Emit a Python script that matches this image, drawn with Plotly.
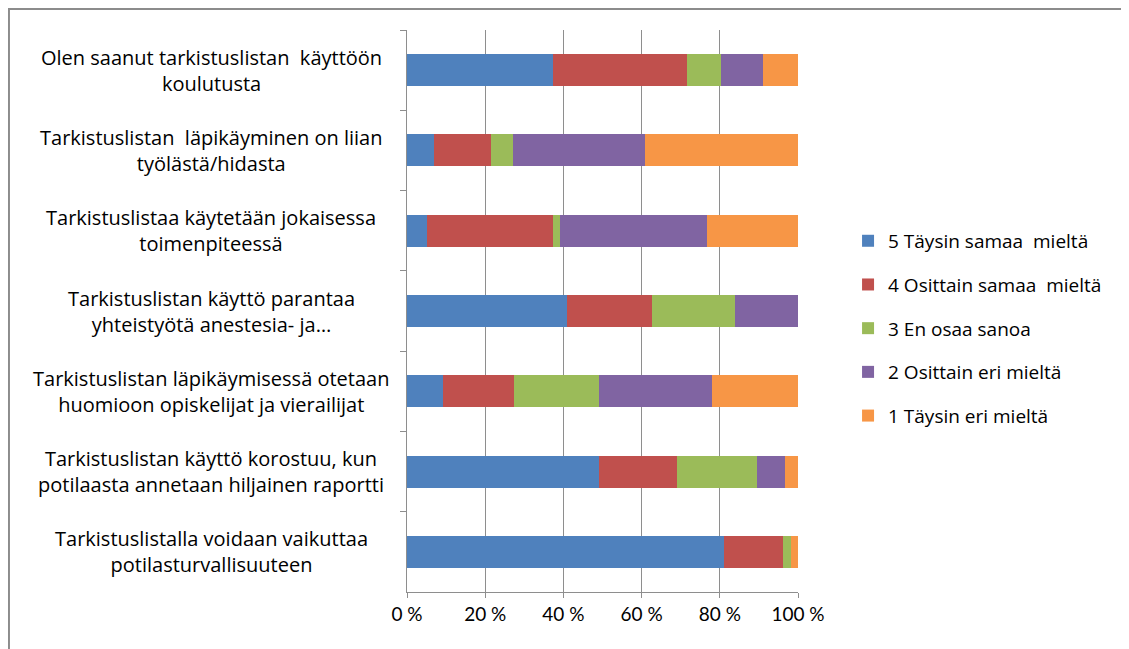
import plotly.graph_objects as go

categories = [
    "Olen saanut tarkistuslistan  käyttöön<br>koulutusta",
    "Tarkistuslistan  läpikäyminen on liian<br>työlästä/hidasta",
    "Tarkistuslistaa käytetään jokaisessa<br>toimenpiteessä",
    "Tarkistuslistan käyttö parantaa<br>yhteistyötä anestesia- ja…",
    "Tarkistuslistan läpikäymisessä otetaan<br>huomioon opiskelijat ja vierailijat",
    "Tarkistuslistan käyttö korostuu, kun<br>potilaasta annetaan hiljainen raportti",
    "Tarkistuslistalla voidaan vaikuttaa<br>potilasturvallisuuteen",
]

series_names = [
    "5 Täysin samaa  mieltä",
    "4 Osittain samaa  mieltä",
    "3 En osaa sanoa",
    "2 Osittain eri mieltä",
    "1 Täysin eri mieltä",
]

s5 = [37.3, 7.0, 5.1, 41.0, 9.3, 49.2, 81.2]
s4 = [34.3, 14.5, 32.2, 21.7, 18.1, 19.8, 14.9]
s3 = [8.7, 5.5, 1.8, 21.2, 21.7, 20.4, 2.2]
s2 = [10.7, 33.9, 37.5, 16.1, 28.9, 7.2, 0.0]
s1 = [9.0, 39.1, 23.4, 0.0, 22.0, 3.4, 1.7]

series_values = [s5, s4, s3, s2, s1]
colors = ["#4F81BD", "#C0504D", "#9BBB59", "#8064A2", "#F79646"]

tick_vals = [0, 20, 40, 60, 80, 100]
tick_text = ["0 %", "20 %", "40 %", "60 %", "80 %", "100 %"]

FONT = "'Open Sans', Lato, sans-serif"
FS = 19

fig = go.Figure()
for name, vals, col in zip(series_names, series_values, colors):
    fig.add_trace(go.Bar(
        y=categories, x=vals, name=name, orientation="h",
        marker=dict(color=col, line=dict(width=0)),
        legendgroup=name,
    ))

annotations = []
for c in categories:
    annotations.append(dict(
        x=-0.501, y=c, xref="paper", yref="y", text=c, showarrow=False,
        xanchor="center", yanchor="middle", align="center",
        font=dict(family=FONT, size=20, color="#000000"),
    ))

fig.update_layout(
    width=1129, height=649,
    margin=dict(l=399, r=339, t=22, b=65),
    paper_bgcolor="white", plot_bgcolor="white",
    barmode="stack", bargap=0.6,
    font=dict(family=FONT, size=FS, color="#000000"),
    showlegend=True,
    legend=dict(
        x=1.128, xanchor="left", y=0.469, yanchor="middle",
        traceorder="grouped", tracegroupgap=16,
        font=dict(family=FONT, size=FS, color="#000000"),
        bgcolor="rgba(0,0,0,0)",
    ),
    xaxis=dict(
        range=[0, 100], tickvals=tick_vals, ticktext=tick_text,
        showgrid=True, gridcolor="#8e8e8e", gridwidth=1.3,
        showline=True, linecolor="#8e8e8e", linewidth=1.3,
        ticks="outside", ticklen=5, tickcolor="#8e8e8e",
        zeroline=False, fixedrange=True,
        tickfont=dict(family="Lato, sans-serif", size=FS, color="#000000"),
    ),
    yaxis=dict(
        autorange="reversed", showticklabels=False,
        showline=True, linecolor="#8e8e8e", linewidth=1.3,
        ticks="outside", ticklen=6, tickcolor="#8e8e8e", tickson="boundaries",
        showgrid=False, zeroline=False,
    ),
    annotations=annotations,
    shapes=[dict(
        type="rect", xref="paper", yref="paper",
        x0=-1.018, x1=1.95, y0=-0.2, y1=1.0374,
        line=dict(color="#8c8c8c", width=2), fillcolor="rgba(0,0,0,0)", layer="below",
    )],
)

fig.write_html("out.html")
